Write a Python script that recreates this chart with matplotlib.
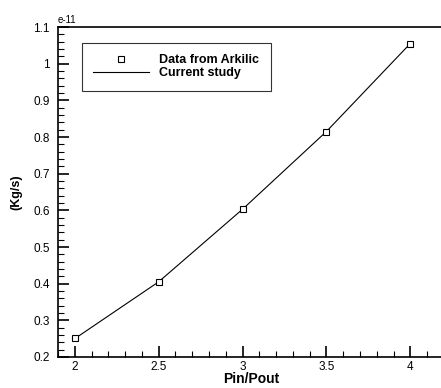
import matplotlib.pyplot as plt
from matplotlib.ticker import MultipleLocator

plt.rcParams['font.family'] = ['Liberation Sans', 'DejaVu Sans']

pressure_ratio = [2.0, 2.5, 3.0, 3.5, 4.0]
arkilic = [0.252, 0.405, 0.603, 0.813, 1.053]      # x 1e-11 kg/s
study_y = [0.250, 0.405, 0.603, 0.815, 1.055]

fig = plt.figure(figsize=(4.41, 3.88), dpi=100)
ax = fig.add_axes([0.1315, 0.0799, 0.875, 0.8505])

ax.plot(pressure_ratio, study_y, color='black', linewidth=0.8, label='Current study')
ax.plot(pressure_ratio, arkilic, linestyle='none', marker='s', markersize=5,
        markerfacecolor='white', markeredgecolor='black', markeredgewidth=0.8,
        label='Data from Arkilic')

ax.set_xlim(1.9, 4.2)
ax.set_ylim(0.2, 1.1)
ax.xaxis.set_minor_locator(MultipleLocator(0.1))
ax.yaxis.set_minor_locator(MultipleLocator(0.02))
ax.set_xticks([2, 2.5, 3, 3.5, 4])
ax.set_xticklabels(['2', '2.5', '3', '3.5', '4'])
ax.set_yticks([0.2, 0.3, 0.4, 0.5, 0.6, 0.7, 0.8, 0.9, 1.0, 1.1])
ax.set_yticklabels(['0.2', '0.3', '0.4', '0.5', '0.6', '0.7', '0.8', '0.9', '1', '1.1'])
ax.tick_params(which='both', direction='in', labelsize=8.5, width=1.2)
ax.tick_params(axis='x', which='major', pad=3)
ax.tick_params(axis='y', which='major', pad=6)
ax.tick_params(which='major', length=8)
ax.tick_params(which='minor', length=4, width=0.8)
for s in ax.spines.values():
    s.set_linewidth(1.2)
ax.spines['right'].set_visible(False)

ax.text(0.0, 1.005, 'e-11', transform=ax.transAxes, fontsize=7, va='bottom', ha='left')
ax.set_xlabel('Pin/Pout', fontsize=10, fontweight='bold', labelpad=-1)
ax.set_ylabel('(Kg/s)', fontsize=9, fontweight='bold', labelpad=8)

handles, labels = ax.get_legend_handles_labels()
leg = ax.legend(handles[::-1], labels[::-1], loc='upper left', bbox_to_anchor=(0.062, 0.952),
                borderaxespad=0, fontsize=9, frameon=True, fancybox=False, edgecolor='black',
                handlelength=4.5, handletextpad=0.8, borderpad=0.9, labelspacing=0.1)
leg.get_frame().set_linewidth(0.8)
for t in leg.get_texts():
    t.set_fontweight('bold')

fig.savefig('out.png', dpi=100)
